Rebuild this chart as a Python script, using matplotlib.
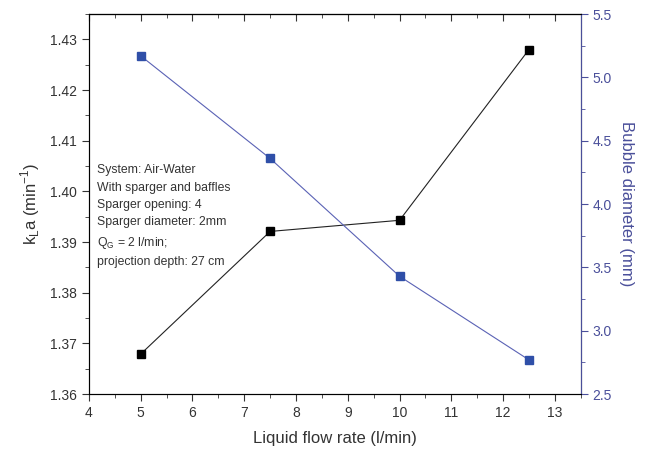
import numpy as np
import matplotlib
matplotlib.use("Agg")
import matplotlib.pyplot as plt
from matplotlib.ticker import MultipleLocator, NullFormatter

plt.rcParams['font.family'] = ['Liberation Sans', 'DejaVu Sans']

flow = [5, 7.5, 10, 12.5]
kla = [1.3679, 1.3921, 1.3943, 1.4280]
bubble_d = [5.17, 4.36, 3.43, 2.77]

info_lines = [
    "System: Air-Water",
    "With sparger and baffles",
    "Sparger opening: 4",
    "Sparger diameter: 2mm",
    "Q$_\\mathregular{G}$ = 2 l/min;",
    "projection depth: 27 cm",
]

blue = '#2f4fa8'
axis_blue = '#4a4f9a'
grey = '#333333'

fig, ax = plt.subplots(figsize=(6.54, 4.53), dpi=100)
fig.subplots_adjust(left=0.136, right=0.888, top=0.969, bottom=0.130)

ax.plot(flow, kla, color='#222222', lw=0.8, marker='s', ms=6,
        mfc='black', mec='black')
ax.set_xlim(4, 13.5)
ax.set_ylim(1.36, 1.435)
ax.xaxis.set_major_locator(MultipleLocator(1))
ax.xaxis.set_minor_locator(MultipleLocator(0.5))
ax.yaxis.set_minor_locator(MultipleLocator(0.005))
ax.set_yticks(np.arange(1.36, 1.4301, 0.01))
ax.set_yticklabels([f"{v:.2f}" for v in np.arange(1.36, 1.4301, 0.01)])
ax.tick_params(axis='both', which='both', direction='out', labelsize=10, colors=grey)
ax.tick_params(which='major', length=5)
ax.tick_params(which='minor', length=3)
ax.set_xlabel("Liquid flow rate (l/min)", fontsize=12, color=grey, labelpad=8)
ax.set_ylabel("k$_\\mathregular{L}$a (min$^\\mathregular{-1}$)", fontsize=12, color=grey, labelpad=6)
for s in ['left', 'bottom', 'top']:
    ax.spines[s].set_color(grey)

# top ticks point inward, no labels
top = ax.secondary_xaxis('top')
top.xaxis.set_major_locator(MultipleLocator(1))
top.xaxis.set_minor_locator(MultipleLocator(0.5))
top.xaxis.set_major_formatter(NullFormatter())
top.tick_params(which='both', direction='in', colors=grey)
top.tick_params(which='major', length=5)
top.tick_params(which='minor', length=3)

ax.text(0.017, 0.605, "\n".join(info_lines), transform=ax.transAxes,
        fontsize=8.8, color=grey, va='top', ha='left', linespacing=1.6)

ax2 = ax.twinx()
ax2.plot(flow, bubble_d, color='#5a62b5', lw=0.8, marker='s', ms=6,
         mfc=blue, mec=blue)
ax2.set_ylim(2.5, 5.5)
ax2.yaxis.set_major_locator(MultipleLocator(0.5))
ax2.yaxis.set_minor_locator(MultipleLocator(0.25))
ax2.tick_params(axis='y', which='both', direction='out', colors=axis_blue, labelsize=10)
ax2.tick_params(which='major', length=5)
ax2.tick_params(which='minor', length=3)
ax2.spines['right'].set_color(axis_blue)
ax2.set_ylabel("Bubble diameter (mm)", fontsize=12, color=axis_blue, rotation=270, labelpad=16)

fig.savefig("out.png", dpi=100)
